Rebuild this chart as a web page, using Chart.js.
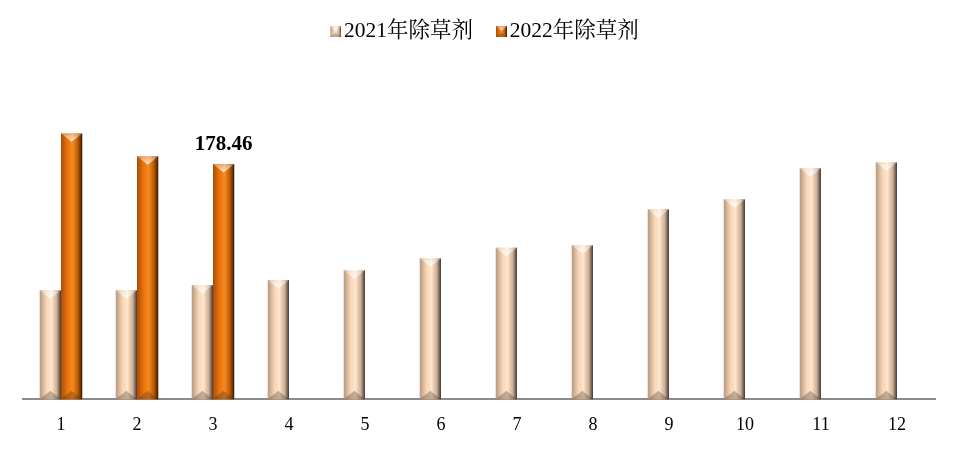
<!DOCTYPE html>
<html>
<head>
<meta charset="utf-8">
<script src="https://cdn.jsdelivr.net/npm/chart.js@4.4.1/dist/chart.umd.min.js"></script>
<style>
    body { margin: 0; background: #fff; }
    #wrap { width: 957px; height: 449px; }
</style>
</head>
<body>
<div id="wrap"><canvas id="herbicideChart"></canvas></div>
<script>
const months = ['1', '2', '3', '4', '5', '6', '7', '8', '9', '10', '11', '12'];
const values2021 = [82.7, 82.7, 86.7, 90.5, 97.8, 106.9, 115.0, 116.8, 144.1, 151.7, 175.2, 179.7];
const values2022 = [201.7, 184.3, 178.46, null, null, null, null, null, null, null, null, null];
const seriesNames = ['2021年除草剂', '2022年除草剂'];
const labelIndex = 2; // only the March 2022 value is labelled

// colour stops for the bevelled bars: left edge, light, peak, shade, right edge
const palettes = [
    ['#b39880', '#f5d2b2', '#ffe6cc', '#cdae96', '#443830'],
    ['#a84c06', '#ea720c', '#f68a1e', '#b85a08', '#3a1800']
];

function bevelGradient(ctx, left, right, stops) {
    const g = ctx.createLinearGradient(left, 0, right, 0);
    g.addColorStop(0, stops[0]);
    g.addColorStop(0.3, stops[1]);
    g.addColorStop(0.55, stops[2]);
    g.addColorStop(0.8, stops[3]);
    g.addColorStop(1, stops[4]);
    return g;
}

function drawBevelBar(ctx, left, right, top, bottom, stops) {
    const w = right - left;
    const mid = (left + right) / 2;
    const d = Math.min(w * 0.4, (bottom - top) / 2);
    ctx.fillStyle = bevelGradient(ctx, left, right, stops);
    ctx.fillRect(left, top, w, bottom - top);
    // top facet
    ctx.beginPath();
    ctx.moveTo(left, top);
    ctx.lineTo(right, top);
    ctx.lineTo(mid, top + d);
    ctx.closePath();
    const tg = ctx.createLinearGradient(0, top, 0, top + d);
    tg.addColorStop(0, 'rgba(255,255,255,0.3)');
    tg.addColorStop(1, 'rgba(255,255,255,0.8)');
    ctx.fillStyle = tg;
    ctx.fill();
    // bottom facet
    ctx.beginPath();
    ctx.moveTo(left, bottom);
    ctx.lineTo(right, bottom);
    ctx.lineTo(mid, bottom - d);
    ctx.closePath();
    ctx.fillStyle = 'rgba(60,40,20,0.3)';
    ctx.fill();
}

// legend swatch: 11px bevel square sitting at the right of a transparent strip,
// so the label text sits close to it like in the original
function legendSwatch(stops) {
    const c = document.createElement('canvas');
    c.width = 30;
    c.height = 11;
    drawBevelBar(c.getContext('2d'), 19, 30, 0, 11, stops);
    return c;
}

// Bevelled bar painter
const bevelPlugin = {
    id: 'bevelBars',
    afterDatasetsDraw(chart) {
        const ctx = chart.ctx;
        ctx.save();
        chart.data.datasets.forEach((ds, i) => {
            const meta = chart.getDatasetMeta(i);
            meta.data.forEach((bar, j) => {
                if (ds.data[j] == null) return;
                const p = bar.getProps(['x', 'y', 'base', 'width'], true);
                drawBevelBar(ctx, p.x - p.width / 2, p.x + p.width / 2, p.y, p.base, palettes[i]);
            });
        });
        ctx.restore();
    }
};

// Value label over the March 2022 bar
const valueLabelPlugin = {
    id: 'valueLabel',
    afterDatasetsDraw(chart) {
        const bar = chart.getDatasetMeta(1).data[labelIndex];
        if (!bar) return;
        const ctx = chart.ctx;
        ctx.save();
        ctx.font = 'bold 21px "Liberation Serif", "Times New Roman", serif';
        ctx.fillStyle = '#000';
        ctx.textAlign = 'center';
        ctx.textBaseline = 'alphabetic';
        ctx.fillText(values2022[labelIndex].toFixed(2), bar.x, bar.y - 13.5);
        ctx.restore();
    }
};

const ctx = document.getElementById('herbicideChart').getContext('2d');
const herbicideChart = new Chart(ctx, {
    type: 'bar',
    data: {
        labels: months,
        datasets: [
            {
                label: seriesNames[0],
                data: values2021,
                backgroundColor: 'rgba(0,0,0,0)',
                pointStyle: legendSwatch(palettes[0]),
                categoryPercentage: 0.56,
                barPercentage: 1.0
            },
            {
                label: seriesNames[1],
                data: values2022,
                backgroundColor: 'rgba(0,0,0,0)',
                pointStyle: legendSwatch(palettes[1]),
                categoryPercentage: 0.56,
                barPercentage: 1.0
            }
        ]
    },
    options: {
        responsive: true,
        maintainAspectRatio: false,
        animation: false,
        layout: {
            padding: { top: 9, left: 23, right: 22, bottom: -2 }
        },
        plugins: {
            legend: {
                position: 'top',
                labels: {
                    usePointStyle: true,
                    pointStyleWidth: 14,
                    boxHeight: 11,
                    padding: 12,
                    color: '#000',
                    font: { family: '"Liberation Serif", "Noto Serif CJK SC", "Noto Sans CJK SC", serif', size: 21.5 }
                }
            },
            tooltip: { enabled: false }
        },
        scales: {
            x: {
                grid: { display: false, drawTicks: false },
                border: { display: true, color: '#8c8c8c', width: 2 },
                ticks: {
                    color: '#000',
                    padding: 20,
                    font: { family: '"Liberation Serif", "Times New Roman", serif', size: 18, lineHeight: 0.65 }
                }
            },
            y: {
                display: false,
                min: 0,
                max: 263
            }
        }
    },
    plugins: [bevelPlugin, valueLabelPlugin]
});
</script>
</body>
</html>
